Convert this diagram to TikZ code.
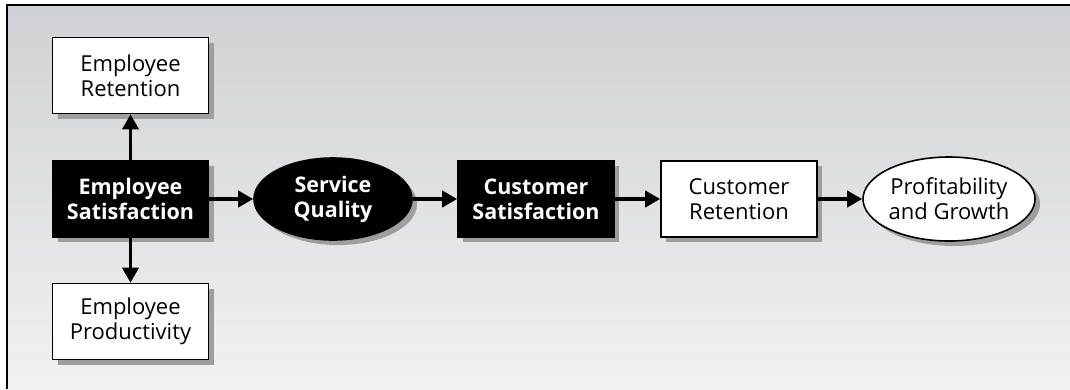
\documentclass[tikz,border=0pt]{standalone}
\usepackage{fontspec}
\setmainfont{Open Sans}
\usepackage{tikz}
\usetikzlibrary{arrows.meta}
\usetikzlibrary{shapes,shadows}
\definecolor{bgtop}{RGB}{208,209,212}
\definecolor{bgbottom}{RGB}{241,241,241}
\tikzstyle{line} = [draw, -{Triangle[length=15pt,width=16pt]}, line width=3.6pt]
\tikzstyle{shade box} = [drop shadow={shadow xshift=5pt, shadow yshift=-5pt, fill=black!38, opacity=1}]
\tikzstyle{whitebox} = [rectangle, draw, line width=1.6pt, fill=white, align=center, minimum width=156pt, minimum height=76pt, shade box]
\tikzstyle{blackbox} = [whitebox, fill=black, text=white, font=\fontsize{21.5}{25}\selectfont\bfseries]
\tikzstyle{whiteoval} = [ellipse, draw, line width=1.6pt, fill=white, align=center, inner sep=0pt, shade box]
\tikzstyle{blackoval} = [whiteoval, fill=black, text=white, font=\fontsize{21.5}{25}\selectfont\bfseries]

\begin{document}
\begin{tikzpicture}[x=1pt, y=-1pt]
	\tikzstyle{every node}=[font=\fontsize{22}{25}\selectfont]
	\useasboundingbox[fill=white] (0,0) rectangle (1070,389);
	
	% ------------------- Background and frame ------------------- %
	\shade[top color=bgtop, bottom color=bgbottom] (7,5) rectangle (1070,389);
	\draw[line width=2.5pt] (7,389) -- (7,5) -- (1070,5);
	
	% ------------------- Employee side ------------------- %
	\node[whitebox] (eret) at (130.5,75.5) {Employee\\Retention};
	\node[blackbox] (esat) at (130.5,199) {Employee\\Satisfaction};
	\node[whitebox] (eprod) at (130.5,321.5) {Employee\\Productivity};
	
	% ------------------- Customer chain ------------------- %
	\node[blackoval, minimum width=158pt, minimum height=82pt] (squal) at (333,199) {Service\\Quality};
	\node[blackbox] (csat) at (536,199) {Customer\\Satisfaction};
	\node[whitebox] (cret) at (739,199) {Customer\\Retention};
	\node[whiteoval, minimum width=172pt, minimum height=84pt] (prof) at (949,199) {Profitability\\and Growth};
	
	% ------------------- Arrows ------------------- %
	\path[line] (esat) -- (eret);
	\path[line] (esat) -- (eprod);
	\path[line] (esat.east) -- (squal.west);
	\path[line] (squal.east) -- (csat.west);
	\path[line] (csat.east) -- (cret.west);
	\path[line] (cret.east) -- (prof.west);
\end{tikzpicture}
\end{document}
